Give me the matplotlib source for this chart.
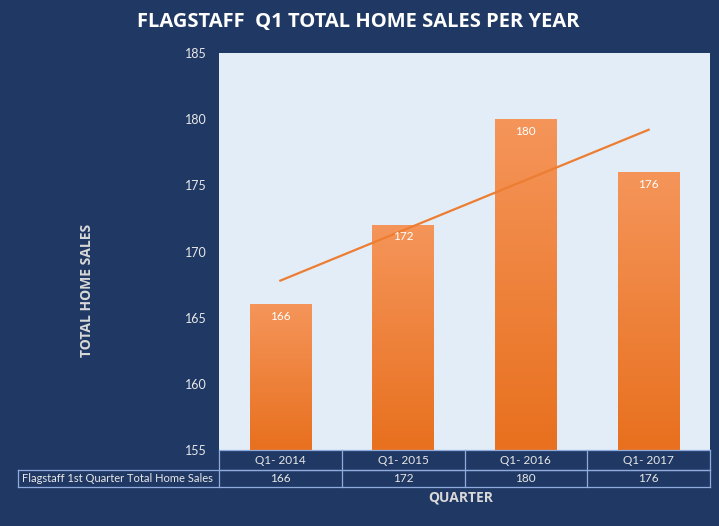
import numpy as np
import matplotlib
matplotlib.use("Agg")
import matplotlib.pyplot as plt
import matplotlib.transforms as mtransforms
from matplotlib.colors import LinearSegmentedColormap

quarters = ["Q1- 2014", "Q1- 2015", "Q1- 2016", "Q1- 2017"]
sales = [166, 172, 180, 176]
row_label = "Flagstaff 1st Quarter Total Home Sales"
yticks = [155, 160, 165, 170, 175, 180, 185]

navy = "#203864"
grid_col = "#8FAADC"
txt_col = "#E8E8E8"
small_font = "Lato"

fig = plt.figure(figsize=(7.19, 5.26), dpi=100, facecolor=navy)
ax = fig.add_axes([219 / 719, 1 - 450 / 526, 491 / 719, 397 / 526])
ax.set_facecolor("#E2EDF8")

x = np.arange(len(quarters))
bars = ax.bar(x, sales, width=0.5, color="none", zorder=2)

# orange gradient inside each bar
grad = LinearSegmentedColormap.from_list("og", ["#E8701E", "#F5955A"])
g = np.linspace(0, 1, 256).reshape(-1, 1)
for b in bars:
    x0, w, h = b.get_x(), b.get_width(), b.get_height()
    im = ax.imshow(g, cmap=grad, origin="lower", aspect="auto",
                   extent=[x0, x0 + w, 155, h], zorder=2)
    im.set_clip_path(b)
    ax.text(x0 + w / 2, h - 0.9, str(int(h)), ha="center", va="center",
            color="white", fontsize=8.5, family=small_font, zorder=4)

# linear trend line
k, c = np.polyfit(x, sales, 1)
ax.plot(x, k * x + c, color="#ED7D31", lw=1.6, zorder=3)

ax.set_xlim(-0.5, len(quarters) - 0.5)
ax.set_ylim(155, 185)
ax.set_yticks(yticks)
ax.set_xticks([])
ax.tick_params(axis="y", length=0, colors=txt_col, labelsize=9, pad=9)
for lab in ax.get_yticklabels():
    lab.set_family(small_font)
for s in ax.spines.values():
    s.set_visible(False)

# data table under the axis
tr = mtransforms.blended_transform_factory(ax.transData, ax.transAxes)
h1 = -20 / 397
h2 = -37 / 397
left_ax = (18 - 219) / 491
lk = dict(color=grid_col, lw=0.9, clip_on=False)
ax.plot([-0.5, 3.5], [0, 0], transform=tr, **lk)
ax.plot([-0.5, 3.5], [h1, h1], transform=tr, **lk)
ax.plot([left_ax, 1], [h1, h1], transform=ax.transAxes, **lk)
ax.plot([left_ax, 1], [h2, h2], transform=ax.transAxes, **lk)
ax.plot([left_ax, left_ax], [h1, h2], transform=ax.transAxes, **lk)
for xb in np.arange(-0.5, 4, 1):
    ax.plot([xb, xb], [0, h2], transform=tr, **lk)
for i, q in enumerate(quarters):
    ax.text(i, h1 / 2, q, transform=tr, ha="center", va="center", color=txt_col,
            fontsize=8.5, family=small_font)
    ax.text(i, (h1 + h2) / 2, str(sales[i]), transform=tr, ha="center", va="center",
            color=txt_col, fontsize=8.5, family=small_font)
ax.text(left_ax + 0.008, (h1 + h2) / 2, row_label, transform=ax.transAxes, ha="left",
        va="center", color=txt_col, fontsize=8, family=small_font)

fig.text(358 / 719, 1 - 22 / 526, "FLAGSTAFF  Q1 TOTAL HOME SALES PER YEAR", ha="center",
         va="center", color="white", fontsize=14.5, fontweight="bold", family="Open Sans")
fig.text(461 / 719, 1 - 497 / 526, "QUARTER", ha="center", va="center", color="#D9D9D9",
         fontsize=10, fontweight="bold", family="Open Sans")
fig.text(87 / 719, 1 - 290 / 526, "TOTAL HOME SALES", ha="center", va="center",
         rotation=90, color="#D9D9D9", fontsize=10, fontweight="bold", family="Open Sans")

fig.savefig("out.png", dpi=100, facecolor=navy)
